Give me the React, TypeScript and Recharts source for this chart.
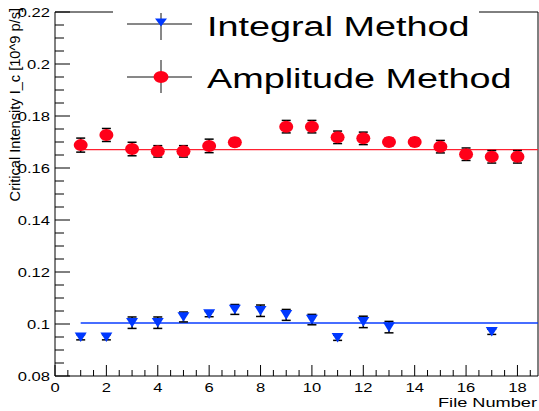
import { ScatterChart, Scatter, XAxis, YAxis, ErrorBar, ReferenceLine, Legend, Label } from 'recharts';

// integral method (blue triangles)
const integralFiles = [1, 2, 3, 4, 5, 6, 7, 8, 9, 10, 11, 12, 13, 17];
const integralValues = [0.0949, 0.0949, 0.1005, 0.1005, 0.1027, 0.1038, 0.1056, 0.1051, 0.1035, 0.1017, 0.0947, 0.1008, 0.0988, 0.097];
const integralErrors = [0.001, 0.001, 0.0022, 0.0022, 0.0019, 0.001, 0.0019, 0.0022, 0.0021, 0.002, 0.001, 0.0022, 0.0022, 0.001];

// amplitude method (red circles)
const amplitudeFiles = [1, 2, 3, 4, 5, 6, 7, 9, 10, 11, 12, 13, 14, 15, 16, 17, 18];
const amplitudeValues = [0.1688, 0.1727, 0.1673, 0.1664, 0.1664, 0.1685, 0.1699, 0.1759, 0.1759, 0.1718, 0.1714, 0.17, 0.17, 0.1682, 0.1653, 0.1643, 0.1643];
const amplitudeErrors = [0.0027, 0.0025, 0.0026, 0.0022, 0.0022, 0.0026, 0.0015, 0.0024, 0.0024, 0.0024, 0.0024, 0.0015, 0.0015, 0.0024, 0.0024, 0.0024, 0.0024];

// constant fits
const integralFit = 0.1004;
const amplitudeFit = 0.1671;
const fitStart = 1;

const seriesNames = ['Integral Method', 'Amplitude Method'];
const xTitle = 'File Number';
const yTitle = 'Critical Intensity I_c [10^9 p/s]';

const xMajorTicks = [0, 2, 4, 6, 8, 10, 12, 14, 16, 18];
const yMajorTicks = [0.08, 0.1, 0.12, 0.14, 0.16, 0.18, 0.2, 0.22];
const xMax = 18.8;

const BLUE = '#0038ff';
const RED = '#ff0019';
const FONT = '"Liberation Sans", Arial, Helvetica, sans-serif';

const withMinors = (majors: number[], n: number, extra: number[] = []) => {
  const out: number[] = [];
  for (let i = 0; i < majors.length; i++) {
    out.push(majors[i]);
    if (i < majors.length - 1) {
      const step = (majors[i + 1] - majors[i]) / n;
      for (let k = 1; k < n; k++) out.push(majors[i] + k * step);
    }
  }
  return out.concat(extra);
};

const xTicks = withMinors(xMajorTicks, 4, [18.5]);
const yTicks = withMinors(yMajorTicks, 4);

const isMajor = (v: number, majors: number[]) => majors.some((m) => Math.abs(m - v) < 1e-9);

const integralData = integralFiles.map((x, i) => ({ x, y: integralValues[i], err: integralErrors[i] }));
const amplitudeData = amplitudeFiles.map((x, i) => ({ x, y: amplitudeValues[i], err: amplitudeErrors[i] }));

const XTick = (props: any) => {
  const { x, y, payload } = props;
  const major = isMajor(payload.value, xMajorTicks);
  return (
    <g>
      <line x1={x} x2={x} y1={y} y2={y - (major ? 11 : 6)} stroke="#000" />
      {major && (
        <text transform={`translate(${x},${y + 16}) scale(1.38,1)`} textAnchor="middle" fontSize={12} fontFamily={FONT} fill="#000">
          {payload.value}
        </text>
      )}
    </g>
  );
};

const YTick = (props: any) => {
  const { x, y, payload } = props;
  const major = isMajor(payload.value, yMajorTicks);
  return (
    <g>
      <line x1={x} x2={x + (major ? 15 : 9)} y1={y} y2={y} stroke="#000" />
      {major && (
        <text transform={`translate(${x - 5},${y + 4.5}) scale(1.38,1)`} textAnchor="end" fontSize={12} fontFamily={FONT} fill="#000">
          {String(payload.value)}
        </text>
      )}
    </g>
  );
};

const triangle = (cx: number, cy: number, w = 6, h = 4.8) => `M${cx - w},${cy - h}L${cx + w},${cy - h}L${cx},${cy + h}Z`;

const TriangleDown = (props: any) => <path d={triangle(props.cx, props.cy)} fill={BLUE} />;
const RedDot = (props: any) => <ellipse cx={props.cx} cy={props.cy} rx={7} ry={6} fill={RED} />;

const LegendBox = () => (
  <svg width={366} height={100} style={{ display: 'block', background: '#fff', overflow: 'visible' }}>
    <line x1={14} x2={79} y1={24} y2={24} stroke="#111" />
    <line x1={48} x2={48} y1={13} y2={40} stroke="#111" />
    <path d={triangle(48, 22.5, 6, 4)} fill={BLUE} />
    <text transform="translate(94,36) scale(1.35,1)" fontSize={28} fontFamily={FONT} fill="#000">
      {seriesNames[0]}
    </text>
    <line x1={14} x2={79} y1={77} y2={77} stroke="#111" />
    <line x1={48} x2={48} y1={60} y2={93} stroke="#111" />
    <ellipse cx={48} cy={77} rx={7.5} ry={6} fill={RED} />
    <text transform="translate(94,88) scale(1.35,1)" fontSize={28} fontFamily={FONT} fill="#000">
      {seriesNames[1]}
    </text>
  </svg>
);

export default function App() {
  return (
    <div style={{ position: 'absolute', left: 0, top: 0, width: 539, height: 411, background: '#fff' }}>
      <ScatterChart width={539} height={411} margin={{ top: 12, right: 1, bottom: 34, left: 54 }}>
        <XAxis
          type="number"
          dataKey="x"
          domain={[0, xMax]}
          ticks={xTicks}
          interval={0}
          allowDataOverflow
          height={1}
          tickSize={0}
          tickMargin={0}
          tickLine={false}
          axisLine={{ stroke: '#000' }}
          tick={<XTick />}
        >
          <Label
            content={() => (
              <text transform="translate(537,407) scale(1.4,1)" textAnchor="end" fontSize={13} fontFamily={FONT} fill="#000">
                {xTitle}
              </text>
            )}
          />
        </XAxis>
        <YAxis
          type="number"
          dataKey="y"
          domain={[0.08, 0.22]}
          ticks={yTicks}
          interval={0}
          allowDataOverflow
          width={1}
          tickSize={0}
          tickMargin={0}
          tickLine={false}
          axisLine={{ stroke: '#000' }}
          tick={<YTick />}
        >
          <Label
            content={() => (
              <text transform="translate(20,8) rotate(-90)" textAnchor="end" fontSize={14.6} fontFamily={FONT} fill="#000">
                {yTitle}
              </text>
            )}
          />
        </YAxis>
        <ReferenceLine y={0.22} stroke="#000" />
        <ReferenceLine x={xMax} stroke="#000" />
        <ReferenceLine segment={[{ x: fitStart, y: amplitudeFit }, { x: xMax, y: amplitudeFit }]} stroke="#ff2030" strokeWidth={1.2} />
        <ReferenceLine segment={[{ x: fitStart, y: integralFit }, { x: xMax, y: integralFit }]} stroke="#0a3cff" strokeWidth={1.6} />
        <Scatter name={seriesNames[0]} data={integralData} shape={<TriangleDown />} fill={BLUE} isAnimationActive={false}>
          <ErrorBar dataKey="err" direction="y" width={4.5} stroke="#000" strokeWidth={1.5} isAnimationActive={false} />
        </Scatter>
        <Scatter name={seriesNames[1]} data={amplitudeData} shape={<RedDot />} fill={RED} isAnimationActive={false}>
          <ErrorBar dataKey="err" direction="y" width={4.5} stroke="#000" strokeWidth={1.5} isAnimationActive={false} />
        </Scatter>
        <Legend
          layout="vertical"
          align="center"
          verticalAlign="middle"
          width={366}
          height={100}
          wrapperStyle={{ top: 0, left: 113, width: 366, height: 100, overflow: 'visible' }}
          content={() => <LegendBox />}
        />
      </ScatterChart>
    </div>
  );
}
